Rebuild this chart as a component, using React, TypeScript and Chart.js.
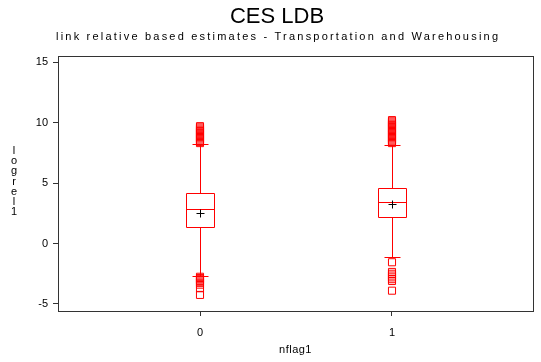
import React, { useEffect, useRef } from "react";
import { Chart, registerables } from "chart.js";

Chart.register(...registerables);

// ---- data ----
const groups = [0, 1];
const xTicks = [0, 1];
const yTicks = [-5, 0, 5, 10, 15];
const q1 = [1.36, 2.19];
const median = [2.85, 3.43];
const q3 = [4.17, 4.59];
const whiskerLow = [-2.69, -1.12];
const whiskerHigh = [8.22, 8.17];
const means = [2.52, 3.26];
const outliers0 = [9.7, 9.6, 9.5, 9.4, 9.3, 9.2, 9.1, 9.0, 8.9, 8.8, 8.7, 8.6, 8.5, 8.4, 8.3,
  -2.75, -2.85, -2.95, -3.05, -3.15, -3.25, -3.4, -3.7, -4.25];
const outliers1 = [10.2, 10.1, 10.0, 9.9, 9.8, 9.7, 9.6, 9.5, 9.4, 9.3, 9.2, 9.1, 9.0, 8.9, 8.8, 8.7, 8.6, 8.5, 8.4, 8.3,
  -1.55, -2.35, -2.5, -2.65, -2.8, -2.95, -3.1, -3.9];
const titleText = "CES LDB";
const subtitleText = "link relative based estimates - Transportation and Warehousing";
const yTitle = "logrel1";
const xTitle = "nflag1";

const RED = "rgb(255,0,0)";
const FONT = "'Liberation Sans', Arial, sans-serif";
const BOX_HALF = 0.073;
const CAP_HALF = 0.04;

const boxPlugin = {
  id: "boxes",
  afterDraw(chart: any) {
    const { ctx, chartArea, scales } = chart;
    const xs = scales.x;
    const ys = scales.y;
    ctx.save();
    // frame
    ctx.strokeStyle = "#333";
    ctx.lineWidth = 1;
    ctx.strokeRect(chartArea.left + 0.5, chartArea.top + 0.5, chartArea.right - chartArea.left, chartArea.bottom - chartArea.top);

    // boxes
    const py = (v: number) => Math.round(ys.getPixelForValue(v)) + 0.5;
    const px = (v: number) => Math.round(xs.getPixelForValue(v)) + 0.5;
    groups.forEach((g, i) => {
      const cx = px(g);
      const l = px(g - BOX_HALF);
      const r = px(g + BOX_HALF);
      const cl = px(g - CAP_HALF);
      const cr = px(g + CAP_HALF);
      const t = py(q3[i]);
      const b = py(q1[i]);
      ctx.strokeStyle = RED;
      ctx.lineWidth = 1;
      ctx.beginPath();
      ctx.moveTo(l, t); ctx.lineTo(r, t); ctx.lineTo(r, b); ctx.lineTo(l, b); ctx.closePath();
      ctx.moveTo(l, py(median[i])); ctx.lineTo(r, py(median[i]));
      ctx.moveTo(cx, t); ctx.lineTo(cx, py(whiskerHigh[i]));
      ctx.moveTo(cx, b); ctx.lineTo(cx, py(whiskerLow[i]));
      ctx.moveTo(cl, py(whiskerHigh[i])); ctx.lineTo(cr, py(whiskerHigh[i]));
      ctx.moveTo(cl, py(whiskerLow[i])); ctx.lineTo(cr, py(whiskerLow[i]));
      ctx.stroke();
    });
    // mean markers
    ctx.strokeStyle = "#000";
    groups.forEach((g, i) => {
      const cx = px(g);
      const cy = py(means[i]);
      ctx.beginPath();
      ctx.moveTo(cx - 4, cy); ctx.lineTo(cx + 4, cy);
      ctx.moveTo(cx, cy - 4); ctx.lineTo(cx, cy + 4);
      ctx.stroke();
    });

    ctx.fillStyle = "#000";
    ctx.textAlign = "center";
    ctx.textBaseline = "middle";
    ctx.font = `22px ${FONT}`;
    ctx.fillText(titleText, 277, 17);
    ctx.font = `11px ${FONT}`;
    const w = ctx.measureText(subtitleText).width;
    const sp = (442 - w) / (subtitleText.length - 1);
    (ctx as any).letterSpacing = `${sp}px`;
    ctx.textAlign = "left";
    ctx.fillText(subtitleText, 277 - 221, 37);
    (ctx as any).letterSpacing = "0px";
    ctx.textAlign = "center";
    yTitle.split("").forEach((c, i) => {
      ctx.fillText(c, 14, 151 + i * 10.2);
    });
    (ctx as any).letterSpacing = "0.5px";
    ctx.fillText(xTitle, (chartArea.left + chartArea.right) / 2, 350);
    ctx.restore();
  },
};

export default function App() {
  const ref = useRef<HTMLCanvasElement>(null);
  useEffect(() => {
    if (!ref.current) return;
    const pts = [
      ...outliers0.map((v) => ({ x: groups[0], y: v })),
      ...outliers1.map((v) => ({ x: groups[1], y: v })),
    ];
    const chart = new Chart(ref.current, {
      type: "scatter",
      data: {
        datasets: [
          {
            data: pts,
            pointStyle: "rect",
            pointRadius: 5,
            borderWidth: 1,
            borderColor: RED,
            backgroundColor: "rgba(0,0,0,0)",
          },
        ],
      },
      options: {
        animation: false,
        responsive: false,
        events: [],
        layout: { padding: { left: 0, top: 56, right: 8, bottom: 0 } },
        plugins: { legend: { display: false }, tooltip: { enabled: false }, title: { display: false } },
        scales: {
          x: {
            type: "linear",
            min: -0.7396,
            max: 1.7344,
            afterBuildTicks: (s: any) => {
              s.ticks = xTicks.map((v) => ({ value: v }));
            },
            afterFit: (s: any) => {
              s.height = 51;
            },
            border: { display: false },
            grid: { display: true, drawOnChartArea: false, drawTicks: true, tickLength: 5, color: "#333" },
            ticks: { padding: 10, color: "#000", font: { size: 11, family: FONT }, maxRotation: 0 },
          },
          y: {
            type: "linear",
            min: -5.58,
            max: 15.5,
            afterBuildTicks: (s: any) => {
              s.ticks = yTicks.map((v) => ({ value: v }));
            },
            afterFit: (s: any) => {
              s.width = 58;
            },
            border: { display: false },
            grid: { display: true, drawOnChartArea: false, drawTicks: true, tickLength: 5, color: "#333" },
            ticks: { padding: 5, color: "#000", font: { size: 11, family: FONT } },
          },
        },
      } as any,
      plugins: [boxPlugin],
    });
    return () => chart.destroy();
  }, []);
  return (
    <div style={{ position: "fixed", left: 0, top: 0, width: 541, height: 362, background: "#fff" }}>
      <canvas ref={ref} width={541} height={362} style={{ display: "block" }} />
    </div>
  );
}
